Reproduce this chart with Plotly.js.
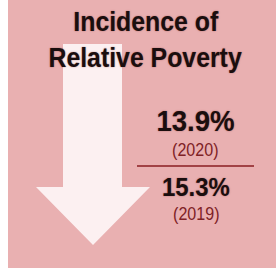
<!DOCTYPE html>
<html>
<head>
<meta charset="utf-8">
<script src="https://cdn.plot.ly/plotly-3.0.1.min.js"></script>
<style>
html,body{margin:0;padding:0;background:#fff;}
#chart{width:276px;height:269px;}
#chart text.annotation-text{transform-box:fill-box;transform-origin:center;transform:scaleX(0.92);}
</style>
</head>
<body>
<div id="chart"></div>
<script>
// Data
const titleLines = ['Incidence of', 'Relative Poverty'];
const years = ['2020', '2019'];
const values = [13.9, 15.3];

const W = 276, H = 269;
const pink = '#e9b0b1';
const arrowCol = '#fcf0f1';
const dark = '#1a0e0e';
const red = '#7f2226';
const fam = 'Liberation Sans, Arial, sans-serif';

const shapes = [
  {type: 'rect', xref: 'x', yref: 'y', x0: 8, x1: 276, y0: 0, y1: 268, fillcolor: pink, line: {width: 0}, layer: 'below'},
  {type: 'path', xref: 'x', yref: 'y',
   path: 'M63,44 L122,44 L122,187 L150,187 L93,245 L36,187 L63,187 Z',
   fillcolor: arrowCol, line: {width: 0}, layer: 'below'},
  {type: 'line', xref: 'x', yref: 'y', x0: 137, x1: 254, y0: 166, y1: 166, line: {color: '#8a1e22', width: 1.5}}
];

const shadow = '0px 0px 1.5px rgba(110,20,20,0.55)';
const annotations = [
  {text: '<b>' + titleLines[0] + '</b>', x: 146.5, y: 22, font: {family: fam, size: 27, color: dark, shadow: shadow}},
  {text: '<b>' + titleLines[1] + '</b>', x: 145, y: 58, font: {family: fam, size: 27, color: dark, shadow: shadow}},
  {text: '<b>' + values[0].toFixed(1) + '%</b>', x: 195.5, y: 120, font: {family: fam, size: 30, color: dark, shadow: shadow}},
  {text: '(' + years[0] + ')', x: 195, y: 149.5, font: {family: fam, size: 17.5, color: red}},
  {text: '<b>' + values[1].toFixed(1) + '%</b>', x: 195.5, y: 187, font: {family: fam, size: 26, color: dark, shadow: shadow}},
  {text: '(' + years[1] + ')', x: 196, y: 214, font: {family: fam, size: 17.5, color: red}}
].map(a => Object.assign({xref: 'x', yref: 'y', showarrow: false, xanchor: 'center', yanchor: 'middle'}, a));

const layout = {
  width: W, height: H,
  margin: {l: 0, r: 0, t: 0, b: 0, pad: 0},
  paper_bgcolor: '#ffffff', plot_bgcolor: 'rgba(0,0,0,0)',
  xaxis: {range: [0, W], visible: false, fixedrange: true},
  yaxis: {range: [H, 0], visible: false, fixedrange: true},
  showlegend: false,
  shapes: shapes,
  annotations: annotations
};

Plotly.newPlot('chart', [{x: [], y: [], type: 'scatter', mode: 'markers', hoverinfo: 'skip'}], layout, {staticPlot: true, displayModeBar: false});
</script>
</body>
</html>
